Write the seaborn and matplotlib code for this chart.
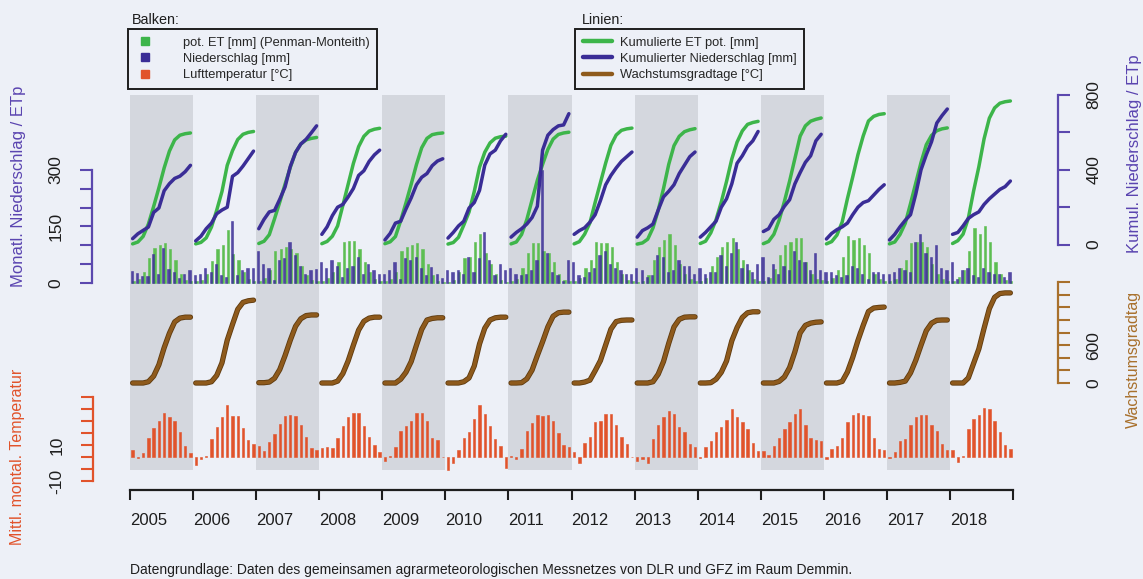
import numpy as np
import pandas as pd
import matplotlib
matplotlib.use("Agg")
import matplotlib.pyplot as plt
import matplotlib.patheffects as pe
from matplotlib.lines import Line2D
import seaborn as sns

# ---------------- data ----------------
years = list(range(2005, 2019))
year_labels = [str(y) for y in years]
month_numbers = list(range(1, 13))

# monthly precipitation [mm]
precip = [
    [32, 26, 18, 18, 78, 24, 92, 38, 28, 12, 24, 34],
    [20, 25, 40, 30, 50, 20, 15, 165, 20, 35, 40, 40],
    [85, 50, 40, 8, 60, 65, 110, 75, 45, 25, 35, 37],
    [55, 40, 60, 45, 15, 40, 45, 70, 25, 50, 35, 25],
    [25, 35, 55, 10, 65, 60, 70, 40, 20, 42, 25, 12],
    [35, 30, 35, 25, 70, 30, 65, 135, 60, 20, 50, 35],
    [40, 25, 20, 25, 35, 60, 300, 80, 30, 20, 5, 60],
    [55, 20, 15, 30, 40, 75, 85, 50, 40, 35, 25, 25],
    [40, 35, 15, 20, 75, 70, 30, 35, 60, 45, 45, 25],
    [40, 25, 30, 30, 75, 45, 80, 110, 40, 50, 30, 50],
    [70, 15, 50, 25, 45, 35, 85, 60, 55, 35, 80, 35],
    [30, 30, 20, 15, 20, 45, 40, 25, 10, 30, 30, 25],
    [25, 30, 40, 35, 30, 110, 130, 80, 70, 100, 40, 35],
    [55, 10, 35, 40, 20, 15, 40, 30, 25, 25, 15, 30],
]

# monthly potential ET (Penman-Monteith) [mm]
et_pot = [
    [4, 10, 30, 66, 94, 100, 106, 90, 60, 25, 8, 4],
    [4, 8, 24, 58, 90, 100, 140, 78, 60, 28, 10, 5],
    [6, 12, 35, 85, 90, 95, 90, 80, 45, 22, 8, 5],
    [5, 12, 28, 55, 110, 112, 112, 90, 55, 28, 10, 5],
    [5, 10, 28, 85, 95, 100, 105, 90, 50, 20, 6, 3],
    [3, 8, 28, 65, 70, 110, 130, 80, 50, 25, 8, 3],
    [4, 10, 40, 80, 105, 105, 85, 80, 55, 25, 8, 4],
    [4, 12, 40, 60, 110, 105, 105, 95, 55, 25, 8, 4],
    [3, 6, 20, 60, 95, 115, 130, 100, 50, 25, 10, 6],
    [6, 12, 45, 70, 95, 110, 120, 90, 60, 35, 10, 6],
    [5, 12, 38, 75, 100, 110, 120, 120, 55, 25, 10, 7],
    [4, 12, 35, 70, 125, 115, 120, 100, 80, 25, 10, 4],
    [4, 10, 40, 60, 105, 110, 110, 95, 50, 25, 10, 5],
    [6, 15, 35, 85, 145, 130, 150, 110, 55, 25, 8, 4],
]

# monthly mean air temperature [°C]
temperature = [
    [2.9, -0.5, 1.5, 7.8, 12.2, 15.1, 18.2, 16.5, 15.1, 10.6, 4.7, 1.5],
    [-3.3, -1.0, 0.5, 7.5, 12.5, 16.5, 21.5, 17.0, 17.0, 12.0, 7.0, 5.5],
    [4.5, 2.5, 6.4, 9.6, 13.8, 17.1, 17.5, 17.1, 13.3, 8.5, 3.6, 2.9],
    [3.6, 4.3, 3.6, 7.8, 13.0, 16.5, 18.2, 18.2, 13.0, 8.5, 5.0, 2.0],
    [-1.5, 0.5, 4.0, 11.0, 13.0, 15.0, 18.5, 18.5, 15.0, 8.0, 7.0, 0.0],
    [-5.5, -2.5, 3.0, 8.0, 10.5, 16.0, 21.5, 18.0, 13.0, 7.5, 4.5, -4.5],
    [0.5, -1.0, 3.5, 11.0, 14.0, 17.5, 17.0, 17.5, 15.0, 10.0, 5.0, 4.0],
    [2.0, -2.5, 6.0, 8.5, 14.5, 15.0, 18.0, 18.0, 13.5, 8.5, 5.5, 0.0],
    [-1.5, -1.0, -2.5, 7.5, 13.5, 16.5, 19.0, 18.0, 12.5, 10.5, 5.5, 4.0],
    [-0.5, 4.0, 6.5, 10.5, 12.5, 15.5, 20.0, 16.5, 14.5, 11.5, 6.0, 2.5],
    [2.5, 1.0, 4.5, 8.0, 11.5, 14.5, 18.0, 20.0, 13.5, 8.0, 7.0, 6.5],
    [-1.0, 3.5, 4.5, 8.0, 14.5, 17.5, 18.5, 17.5, 17.0, 8.0, 3.5, 3.0],
    [-0.5, 2.0, 6.5, 7.5, 13.5, 16.5, 17.5, 17.5, 13.5, 11.0, 5.5, 3.0],
    [3.0, -2.0, 0.5, 11.5, 16.0, 17.5, 20.5, 20.0, 15.0, 10.5, 5.0, 3.5],
]

# monthly growing degree days [°C]
gdd_month = [
    [0, 0, 0, 20, 90, 180, 270, 230, 180, 60, 15, 0],
    [0, 0, 0, 20, 100, 200, 360, 250, 240, 110, 25, 10],
    [5, 0, 10, 60, 140, 220, 245, 220, 120, 50, 10, 0],
    [0, 0, 0, 30, 120, 200, 250, 240, 140, 50, 15, 0],
    [0, 0, 0, 60, 110, 170, 260, 250, 150, 25, 10, 0],
    [0, 0, 0, 20, 60, 190, 350, 250, 130, 35, 10, 0],
    [0, 0, 5, 60, 140, 230, 220, 235, 170, 55, 10, 0],
    [0, 0, 15, 30, 150, 160, 250, 250, 120, 20, 5, 0],
    [0, 0, 0, 20, 120, 200, 290, 260, 120, 35, 5, 0],
    [0, 0, 5, 55, 110, 180, 320, 210, 160, 75, 15, 0],
    [0, 0, 0, 25, 70, 150, 250, 300, 120, 35, 15, 5],
    [0, 0, 0, 25, 150, 230, 270, 240, 220, 55, 10, 5],
    [0, 0, 10, 20, 130, 200, 240, 230, 120, 45, 5, 0],
    [0, 0, 0, 80, 230, 230, 330, 310, 180, 60, 10, 0],
]

bar_legend_labels = ["pot. ET [mm] (Penman-Monteith)", "Niederschlag [mm]", "Lufttemperatur [°C]"]
line_legend_labels = ["Kumulierte ET pot. [mm]", "Kumulierter Niederschlag [mm]", "Wachstumsgradtage [°C]"]
caption = ("Datengrundlage: Daten des gemeinsamen agrarmeteorologischen Messnetzes "
           "von DLR und GFZ im Raum Demmin.")

# ---------------- table ----------------
rows = []
for i, y in enumerate(years):
    for m in range(12):
        rows.append(dict(year=y, month=m + 1, xm=y + (m + 0.5) / 12.0,
                         P=precip[i][m], ET=et_pot[i][m], T=temperature[i][m],
                         G=gdd_month[i][m]))
df = pd.DataFrame(rows)
df["cumP"] = df.groupby("year")["P"].cumsum()
df["cumET"] = df.groupby("year")["ET"].cumsum()
df["cumG"] = df.groupby("year")["G"].cumsum()
df["xP"] = df["xm"] - 0.16 / 12.0
df["xET"] = df["xm"] + 0.16 / 12.0

# ---------------- style ----------------
sns.set_theme(style="white")
plt.rcParams["font.family"] = ["Liberation Sans", "DejaVu Sans"]

BG = "#EDF0F7"
BAND = "#D4D7DE"
GREEN = "#3DB54A"
GREEN_BAR = "#5DBE52"
PURPLE = "#3A2D96"
PURPLE_AX = "#5B48AE"
BROWN = "#8E5A1C"
BROWN_AX = "#A8702C"
ORANGE = "#E1532B"
DARK = "#1E1E1E"

W, H = 1143, 579
PL, PR = 130, 1013
PT, PB = 95, 490
BAND_B = 470


def fx(px):
    return px / W


def fy(py):
    return 1 - py / H


rect = [fx(PL), fy(PB), fx(PR) - fx(PL), fy(PT) - fy(PB)]


def ylim_for(zero_px, scale):
    return (-(PB - zero_px) / scale, (zero_px - PT) / scale)


fig = plt.figure(figsize=(W / 100, H / 100), dpi=100, facecolor=BG)


def clean(ax):
    ax.patch.set_visible(False)
    for s in ax.spines.values():
        s.set_visible(False)
    ax.set_xlim(2005, 2019)
    ax.set_xticks([])
    ax.set_xlabel("")
    ax.set_ylabel("")


# background + x axis
ax_bg = fig.add_axes(rect)
clean(ax_bg)
for y in years[::2]:
    ax_bg.axvspan(y, y + 1, ymin=(PB - BAND_B) / (PB - PT), ymax=1, color=BAND, lw=0)
ax_bg.set_ylim(0, 1)
ax_bg.set_yticks([])
ax_bg.spines["bottom"].set_visible(True)
ax_bg.spines["bottom"].set_color(DARK)
ax_bg.spines["bottom"].set_linewidth(1.6)
ax_bg.set_xticks(list(range(2005, 2020)))
ax_bg.set_xticklabels(year_labels + [""], ha="left")
ax_bg.tick_params(axis="x", direction="out", length=7.5, width=1.5, color=DARK,
                  pad=9, labelsize=12, labelcolor=DARK, bottom=True)

# temperature bars
ax_t = fig.add_axes(rect)
sns.barplot(data=df, x="xm", y="T", native_scale=True, width=0.45, color=ORANGE,
            saturation=1, errorbar=None, ax=ax_t, linewidth=0.4, edgecolor=ORANGE)
clean(ax_t)
ax_t.set_ylim(*ylim_for(457, 2.4))

# growing degree day lines
ax_g = fig.add_axes(rect)
sns.lineplot(data=df, x="xm", y="cumG", units="year", estimator=None, color=BROWN,
             lw=2.6, ax=ax_g, legend=False, solid_capstyle="round",
             path_effects=[pe.Stroke(linewidth=3.8, foreground="#5E3A0E"), pe.Normal()])
clean(ax_g)
ax_g.set_ylim(*ylim_for(383, 0.063))

# monthly bars precip / ET
ax_b = fig.add_axes(rect)
sns.barplot(data=df, x="xET", y="ET", native_scale=True, width=0.42, color=GREEN_BAR,
            saturation=1, errorbar=None, ax=ax_b, linewidth=0.4, edgecolor=GREEN_BAR)
sns.barplot(data=df, x="xP", y="P", native_scale=True, width=0.42, color=PURPLE,
            saturation=1, errorbar=None, ax=ax_b, linewidth=0.4, edgecolor=PURPLE, alpha=0.85)
clean(ax_b)
ax_b.set_ylim(*ylim_for(283, 0.377))

# cumulative lines
ax_c = fig.add_axes(rect)
sns.lineplot(data=df, x="xm", y="cumET", units="year", estimator=None, color=GREEN,
             lw=2.5, ax=ax_c, legend=False, solid_capstyle="round")
sns.lineplot(data=df, x="xm", y="cumP", units="year", estimator=None, color=PURPLE,
             lw=2.5, ax=ax_c, legend=False, solid_capstyle="round")
clean(ax_c)
ax_c.set_ylim(*ylim_for(244, 0.1875))


def side_axis(ax, side, offset_px, lo, hi, ticks, labels, color):
    sp = ax.spines[side]
    sp.set_visible(True)
    sp.set_position(("outward", offset_px * 0.72))
    sp.set_bounds(lo, hi)
    sp.set_color(color)
    sp.set_linewidth(1.6)
    if side == "right":
        ax.yaxis.tick_right()
    else:
        ax.yaxis.tick_left()
    ax.set_yticks(ticks)
    ax.set_yticklabels(labels, rotation=90, va="center")
    ax.tick_params(axis="y", direction="out", length=8.5, width=1.5, color=color,
                   labelsize=12.5, labelcolor=DARK, pad=12)


side_axis(ax_b, "left", 38, 0, 300, list(range(0, 301, 50)),
          ["0", "", "", "150", "", "", "300"], PURPLE_AX)
side_axis(ax_c, "right", 45, 0, 800, list(range(0, 801, 200)),
          ["0", "", "400", "", "800"], PURPLE_AX)
side_axis(ax_g, "right", 45, 0, 1600, list(range(0, 1601, 200)),
          ["0", "", "", "600", "", "", "", "", ""], BROWN_AX)
side_axis(ax_t, "left", 37, -10, 25, list(range(-10, 26, 5)),
          ["-10", "", "", "10", "", "", "", ""], ORANGE)

# axis titles
fig.text(fx(19), fy(287), "Monatl. Niederschlag / ETp", rotation=90, ha="center",
         va="bottom", color="#5A44B0", fontsize=12)
fig.text(fx(1134), fy(253), "Kumul. Niederschlag / ETp", rotation=90, ha="center",
         va="bottom", color="#5A44B0", fontsize=12)
fig.text(fx(1133), fy(428), "Wachstumsgradtag", rotation=90, ha="center",
         va="bottom", color=BROWN_AX, fontsize=11.5)
fig.text(fx(18), fy(545), "Mittl. montal. Temperatur", rotation=90, ha="center",
         va="bottom", color=ORANGE, fontsize=11.5)

# legends
fig.text(fx(132), fy(20), "Balken:", ha="left", va="center", fontsize=10.4, color=DARK)
fig.text(fx(582), fy(20), "Linien:", ha="left", va="center", fontsize=10.4, color=DARK)

bar_handles = [Line2D([], [], marker="s", ls="none", color=c, markersize=6)
               for c in (GREEN, PURPLE, ORANGE)]
leg1 = fig.legend(bar_handles, bar_legend_labels, loc="upper left",
                  bbox_to_anchor=(fx(128), fy(29)), bbox_transform=fig.transFigure,
                  borderaxespad=0, frameon=True, fancybox=False, fontsize=9.3,
                  handlelength=1.45, handletextpad=2.2, borderpad=0.6,
                  labelspacing=0.32, edgecolor=DARK)
leg1.get_frame().set_linewidth(1.4)
leg1.get_frame().set_facecolor(BG)
leg1.get_frame().set_alpha(1)

line_handles = [Line2D([], [], color=c, lw=3.2) for c in (GREEN, PURPLE, BROWN)]
leg2 = fig.legend(line_handles, line_legend_labels, loc="upper left",
                  bbox_to_anchor=(fx(575), fy(29)), bbox_transform=fig.transFigure,
                  borderaxespad=0, frameon=True, fancybox=False, fontsize=9.3,
                  handlelength=2.25, handletextpad=0.62, borderpad=0.6,
                  labelspacing=0.32, edgecolor=DARK)
leg2.get_frame().set_linewidth(1.4)
leg2.get_frame().set_facecolor(BG)
leg2.get_frame().set_alpha(1)

fig.text(fx(130), fy(570), caption, ha="left", va="center", fontsize=10, color=DARK)

fig.savefig("out.png", dpi=100, facecolor=BG)
